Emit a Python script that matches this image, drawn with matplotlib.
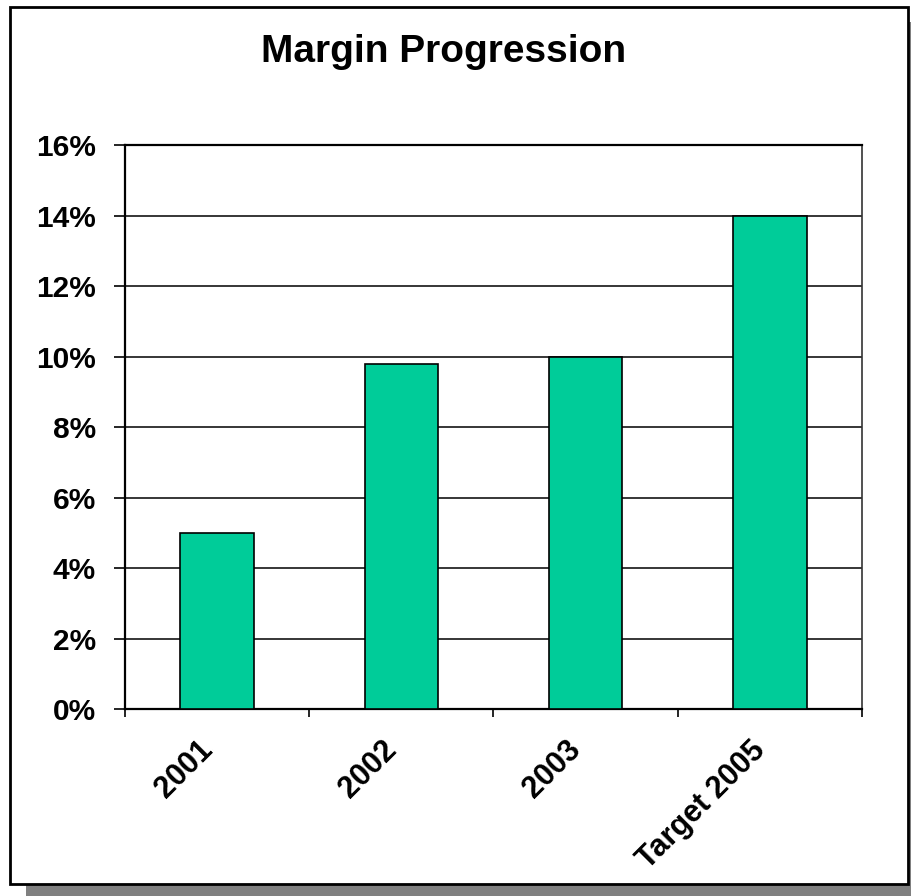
import matplotlib
matplotlib.use("Agg")
import matplotlib.pyplot as plt
from matplotlib.patches import Rectangle
import numpy as np

categories = ["2001", "2002", "2003", "Target 2005"]
values = [5.0, 9.8, 10.0, 14.0]
yticks = [0, 2, 4, 6, 8, 10, 12, 14, 16]
ytick_labels = [f"{v}%" for v in yticks]
title = "Margin Progression"

W, H = 912, 896
fig = plt.figure(figsize=(W / 100, H / 100), dpi=100)
plt.rcParams['font.family'] = ['Liberation Sans', 'DejaVu Sans']

def fx(px):
    return px / W

def fy(py):
    return 1 - py / H

# shadow and frame
shadow = Rectangle((fx(26), fy(896)), fx(912) - fx(26), fy(22) - fy(896),
                   transform=fig.transFigure, facecolor="#808080", edgecolor="none", zorder=0)
frame = Rectangle((fx(10), fy(884)), fx(908) - fx(10), fy(7) - fy(884),
                  transform=fig.transFigure, facecolor="white", edgecolor="black", linewidth=2, zorder=1)
fig.patches.extend([shadow, frame])

ax = fig.add_axes([fx(125), fy(709), fx(862) - fx(125), fy(145) - fy(709)])
ax.set_zorder(2)
ax.patch.set_alpha(0)

x = np.arange(len(categories))
ax.bar(x, values, width=0.4, color="#00CC99", edgecolor="black", linewidth=1.2, zorder=3)

ax.set_xlim(-0.5, len(categories) - 0.5)
ax.set_ylim(0, 16)
ax.set_yticks(yticks)
ax.set_yticklabels(ytick_labels, fontsize=21.5, fontweight="bold")
ax.yaxis.grid(True, color="black", linewidth=1.1, zorder=1)
ax.set_axisbelow(True)

ax.set_xticks(np.arange(len(categories) + 1) - 0.5)
ax.set_xticklabels([])
ax.tick_params(axis="x", direction="out", length=6, width=1.2, color="black")
ax.tick_params(axis="y", direction="out", length=8, width=1.2, color="black", pad=13)

for i, lab in enumerate(categories):
    ax.text(i - 0.05, -0.065, lab, transform=ax.get_xaxis_transform(),
            rotation=45, rotation_mode="anchor", ha="right", va="center",
            fontsize=22, fontweight="bold")

for s in ["left", "bottom", "top"]:
    ax.spines[s].set_linewidth(1.6)
    ax.spines[s].set_color("black")
ax.spines["right"].set_linewidth(1.2)
ax.spines["right"].set_color("#333333")

fig.text(fx(444), fy(52), title, ha="center", va="center", fontsize=28, fontweight="bold")

fig.savefig("out.png", dpi=100)
